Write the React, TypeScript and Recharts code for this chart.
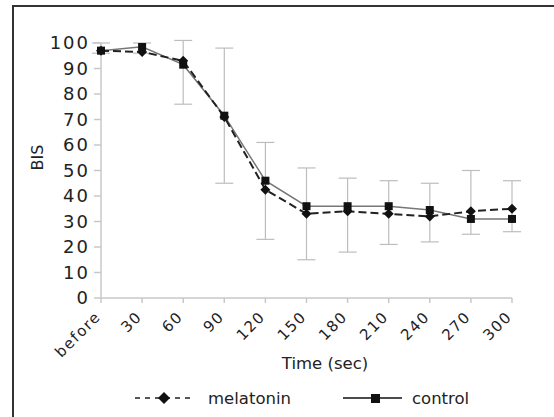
import { LineChart, Line, XAxis, YAxis, ErrorBar } from 'recharts';

const categories = ['before', '30', '60', '90', '120', '150', '180', '210', '240', '270', '300'];
const melatonin = [97, 96.5, 93, 71, 42.5, 33, 34, 33, 32, 34, 35];
const control = [97, 98.5, 91.5, 71.5, 46, 36, 36, 36, 34.5, 31, 31];
const errLow = [96, 96, 76, 45, 23, 15, 18, 21, 22, 25, 26];
const errHigh = [100, 100, 101, 98, 61, 51, 47, 46, 45, 50, 46];
const yTicks = [0, 10, 20, 30, 40, 50, 60, 70, 80, 90, 100];

const data = categories.map((name, i) => ({
  name,
  melatonin: melatonin[i],
  control: control[i],
  err: [melatonin[i] - errLow[i], errHigh[i] - melatonin[i]],
}));

const font = 'DejaVu Sans, sans-serif';

const XTick = ({ x, y, payload }: any) => (
  <g transform={`translate(${x - 3},${y + 9})`}>
    <text x={0} y={0} dy='0.35em' textAnchor='end' transform='rotate(-45)' fontSize={15} fontFamily={font} fill='#222' letterSpacing={1.5}>
      {payload.value}
    </text>
  </g>
);

const YTick = ({ x, y, payload }: any) => (
  <text x={x} y={y} dy='0.36em' textAnchor='end' fontSize={18} fontFamily={font} fill='#222' letterSpacing={2}>
    {payload.value}
  </text>
);

const Diamond = ({ cx, cy }: any) => (
  <path d={`M${cx},${cy - 5}L${cx + 5},${cy}L${cx},${cy + 5}L${cx - 5},${cy}Z`} fill='#111' />
);

const Square = ({ cx, cy }: any) => <rect x={cx - 4} y={cy - 4} width={8} height={8} fill='#111' />;

export default function App() {
  return (
    <div style={{ position: 'absolute', left: 0, top: 0, width: 554, height: 417, background: '#fff' }}>
      <div style={{ position: 'absolute', left: 12, top: 5, right: 0, bottom: 0, borderLeft: '2px solid #333', borderTop: '2px solid #333' }} />
      <div style={{ position: 'absolute', left: 0, top: 0 }}>
        <LineChart width={554} height={417} data={data} margin={{ top: 43, right: 42, left: 31, bottom: 59 }}>
          <XAxis
            dataKey='name'
            height={60}
            interval={0}
            tick={<XTick />}
            tickSize={5}
            stroke='#c8c8c8'
            strokeWidth={1.5}
          />
          <YAxis
            width={70}
            domain={[0, 100]}
            ticks={yTicks}
            allowDataOverflow
            tick={<YTick />}
            tickSize={7}
            tickMargin={4}
            stroke='#c8c8c8'
            strokeWidth={1.5}
            label={{ value: 'BIS', angle: -90, position: 'insideLeft', offset: 6, fontSize: 16, fontFamily: font, fill: '#222' }}
          />
          <Line dataKey='melatonin' stroke='none' dot={false} activeDot={false} isAnimationActive={false} legendType='none'>
            <ErrorBar dataKey='err' width={9} stroke='#bdbdbd' strokeWidth={1.2} direction='y' />
          </Line>
          <Line dataKey='control' stroke='#777' strokeWidth={1.5} dot={<Square />} isAnimationActive={false} />
          <Line dataKey='melatonin' stroke='#222' strokeWidth={2} strokeDasharray='8 4' dot={<Diamond />} isAnimationActive={false} />
          <text x={325} y={369} textAnchor='middle' fontSize={16.5} fontFamily={font} fill='#222'>Time (sec)</text>
          <g fontFamily={font} fontSize={16.5} fill='#222'>
            <line x1={135} x2={195} y1={398} y2={398} stroke='#222' strokeWidth={1.5} strokeDasharray='5 5' />
            <path d='M164,392L170,398L164,404L158,398Z' fill='#111' />
            <text x={208} y={404}>melatonin</text>
            <line x1={343} x2={402} y1={398} y2={398} stroke='#111' strokeWidth={1.5} />
            <rect x={371} y={394} width={9} height={9} fill='#111' />
            <text x={412} y={404}>control</text>
          </g>
        </LineChart>
      </div>
    </div>
  );
}
